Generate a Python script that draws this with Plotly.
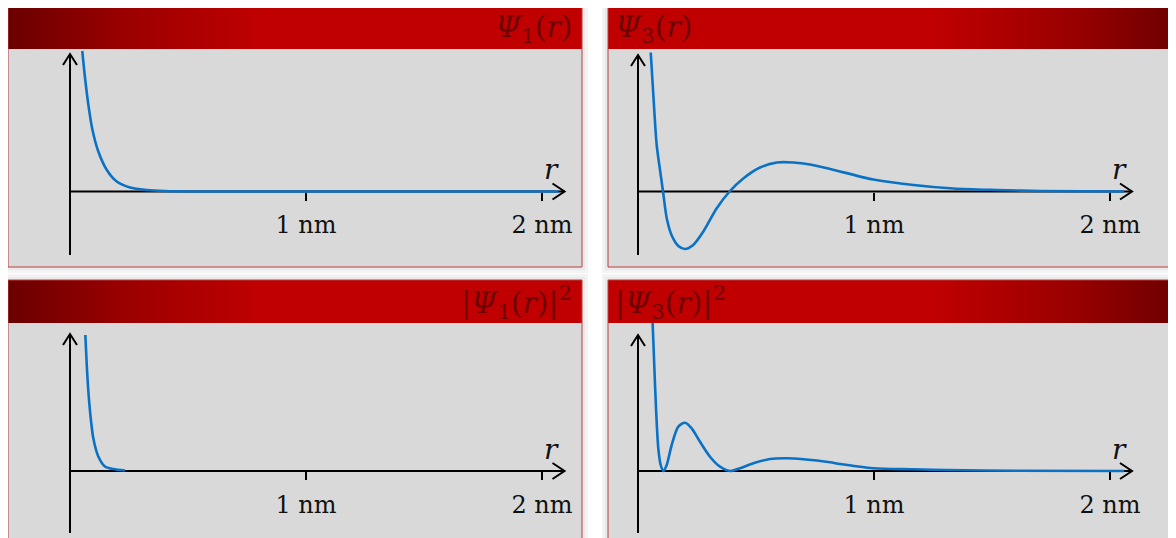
import plotly.graph_objects as go

# ---------------- data (r in nm, amplitude in arbitrary units) ----------------
r_psi1 = [0.052, 0.064, 0.078, 0.094, 0.120, 0.156, 0.198, 0.254, 0.325, 0.40, 0.60, 1.0, 1.5, 2.07]
psi1 = [140.5, 113, 86.5, 63, 40, 21.5, 10, 4, 1.5, 0.5, 0, 0, 0, 0]

r_psi3 = [0.054, 0.065, 0.079, 0.093, 0.106, 0.122, 0.143, 0.171, 0.199, 0.234, 0.277, 0.333,
          0.388, 0.446, 0.517, 0.588, 0.658, 0.729, 0.814, 0.997, 1.167, 1.336, 1.520, 1.703, 2.06]
psi3 = [139, 96.5, 47, 22, 0, -27, -44, -54.5, -57.5, -53.5, -40, -17,
        0, 13, 24, 29, 29, 27, 22.5, 12, 6.5, 3, 1.5, 0.5, 0]

r_psi1_sq = [0.065, 0.071, 0.078, 0.088, 0.099, 0.120, 0.148, 0.183, 0.233]
psi1_sq = [136, 106, 79, 52.5, 32.5, 14.5, 4.5, 2, 0.5]

r_psi3_sq = [0.060, 0.0678, 0.0763, 0.0860, 0.0962, 0.1072, 0.1216, 0.1428, 0.1708, 0.1992,
             0.2275, 0.2627, 0.3051, 0.3475, 0.3898, 0.4322, 0.4886, 0.5593, 0.6301, 0.7004,
             0.8136, 0.856, 0.997, 1.165, 1.308, 1.6, 2.06]
psi3_sq = [160, 112.7, 62.7, 22.7, 6, 0, 6, 26, 44.3, 48.3,
           42.7, 29.3, 14.3, 4.3, 0, 2.7, 7.7, 12, 12.7, 11.7,
           8.7, 7, 2.7, 1.7, 1, 0.3, 0]

tick_vals = [1, 2]
tick_text = ["1 nm", "2 nm"]
titles = ["<i>Ψ</i><sub>1</sub>(<i>r</i>)", "<i>Ψ</i><sub>3</sub>(<i>r</i>)",
          "|<i>Ψ</i><sub>1</sub>(<i>r</i>)|<sup>2</sup>", "|<i>Ψ</i><sub>3</sub>(<i>r</i>)|<sup>2</sup>"]
series = [(r_psi1, psi1), (r_psi3, psi3), (r_psi1_sq, psi1_sq), (r_psi3_sq, psi3_sq)]

# ---------------- layout geometry (screen pixels) ----------------
W, H = 1176, 538
OFF = 8            # page body margin offsets the figure on screen
PX_PER_NM = 236


def clamp(v):
    return max(0.0, min(1.0, v))


def fx(x, c=False):
    v = (x - OFF) / W
    return clamp(v) if c else v


def fy(y, c=False):
    v = 1 - (y - OFF) / H
    return clamp(v) if c else v


panels = [
    dict(l=8, r=582, t=6, hb=49, b=267, ox=70, ay=191.5, ytip=54, ybot=255, xtip=564.5, side="right"),
    dict(l=608, r=1184, t=6, hb=49, b=267, ox=638, ay=191.5, ytip=55, ybot=255, xtip=1132, side="left"),
    dict(l=8, r=582, t=280, hb=323, b=546, ox=70, ay=471, ytip=334, ybot=533, xtip=564.5, side="right"),
    dict(l=608, r=1184, t=280, hb=323, b=546, ox=638, ay=471, ytip=335, ybot=533, xtip=1132, side="left"),
]

RED = "#C00000"
DARK = "#6A0000"
GRAY = "#D9D9D9"
BLUE = "#0A72C6"

fig = go.Figure()
layout = dict(
    width=W, height=H, margin=dict(l=0, r=0, t=0, b=0),
    paper_bgcolor="white", plot_bgcolor=GRAY, showlegend=False,
)
shapes = []
annotations = []

for i, (p, (rs, vs), title) in enumerate(zip(panels, series, titles)):
    k = i + 1
    kh = i + 5
    xs = "" if k == 1 else str(k)
    xname, yname = "x" + xs, "y" + xs
    hx, hy = "x" + str(kh), "y" + str(kh)

    # shadow around panel, then panel fill
    for pad, col in ((6, "#F3F3F3"), (3, "#E9E9E9")):
        shapes.append(dict(type="rect", xref="paper", yref="paper", layer="below",
                           x0=fx(p["l"] - pad), x1=fx(p["r"] + pad),
                           y0=fy(p["b"] + pad), y1=fy(p["t"] - pad),
                           line=dict(width=0), fillcolor=col))
    shapes.append(dict(type="rect", xref="paper", yref="paper", layer="below",
                       x0=fx(p["l"]), x1=fx(p["r"]), y0=fy(p["b"]), y1=fy(p["hb"]),
                       line=dict(width=0), fillcolor=GRAY))

    xl = (p["l"] - p["ox"]) / PX_PER_NM
    xr = (p["r"] - p["ox"]) / PX_PER_NM
    ytop = p["ay"] - p["hb"]
    ybottom = p["ay"] - p["b"]

    layout["xaxis" + xs] = dict(
        domain=[fx(p["l"], True), fx(p["r"], True)], range=[xl, xr], anchor="free",
        position=fy(p["ay"], True), showline=False, showgrid=False, zeroline=False,
        ticks="outside", ticklen=8, tickwidth=2, tickcolor="black",
        tickvals=tick_vals, ticktext=tick_text, ticklabelstandoff=4,
        tickfont=dict(family="DejaVu Serif", size=24, color="#111111"),
        fixedrange=True,
    )
    layout["yaxis" + xs] = dict(
        domain=[fy(p["b"], True), fy(p["hb"], True)], range=[ybottom, ytop], anchor=xname,
        visible=False, fixedrange=True,
    )

    # header gradient
    if p["side"] == "right":
        gx = [p["l"], p["l"] + 255, p["r"]]
        gz = [0, 1, 1]
    else:
        gx = [p["l"], 1176 - 245, p["r"]]
        gz = [1, 1, 0]
    layout["xaxis" + str(kh)] = dict(domain=[fx(p["l"], True), fx(p["r"], True)],
                                     range=[p["l"], p["r"]],
                                     visible=False, anchor=hy, fixedrange=True)
    layout["yaxis" + str(kh)] = dict(domain=[fy(p["hb"], True), fy(p["t"], True)], range=[0, 1],
                                     visible=False, anchor=hx, fixedrange=True)
    fig.add_trace(go.Heatmap(x=gx, y=[0, 1], z=[gz, gz], zsmooth="best",
                             colorscale=[[0, DARK], [0.45, "#9A0000"], [1, RED]],
                             zmin=0, zmax=1, showscale=False, hoverinfo="skip",
                             xaxis=hx, yaxis=hy))

    # curve
    fig.add_trace(go.Scatter(x=rs, y=vs, mode="lines",
                             line=dict(color=BLUE, width=2.6, shape="spline", smoothing=0.8),
                             xaxis=xname, yaxis=yname, hoverinfo="skip"))

    # axis lines (drawn below the curve)
    xtip = (p["xtip"] - p["ox"]) / PX_PER_NM
    yt = p["ay"] - p["ytip"]
    yb = p["ay"] - p["ybot"]
    shapes.append(dict(type="line", xref=xname, yref=yname, layer="below",
                       x0=0, x1=xtip, y0=0, y1=0, line=dict(color="black", width=2)))
    shapes.append(dict(type="line", xref=xname, yref=yname, layer="below",
                       x0=0, x1=0, y0=yb, y1=yt, line=dict(color="black", width=2)))
    shapes.append(dict(type="path", xref=xname, yref=yname, layer="below",
                       xsizemode="pixel", ysizemode="pixel", xanchor=xtip, yanchor=0,
                       path="M -12 8 L 0 0 L -12 -8", line=dict(color="black", width=2)))
    shapes.append(dict(type="path", xref=xname, yref=yname, layer="below",
                       xsizemode="pixel", ysizemode="pixel", xanchor=0, yanchor=yt,
                       path="M -7 -11 L 0 0 L 7 -11", line=dict(color="black", width=2)))

    # panel border
    shapes.append(dict(type="rect", xref="paper", yref="paper", layer="above",
                       x0=fx(p["l"]), x1=fx(p["r"]), y0=fy(p["b"]), y1=fy(p["t"]),
                       line=dict(color="#B84040", width=1)))

    # title in header
    tfont = dict(family="DejaVu Serif", size=30, color="#6E0000")
    ymid = fy((p["t"] + p["hb"]) / 2 + 1)
    if p["side"] == "right":
        annotations.append(dict(xref="paper", yref="paper", x=fx(p["r"] - 8), y=ymid,
                                xanchor="right", yanchor="middle", text=title,
                                showarrow=False, font=tfont))
    else:
        annotations.append(dict(xref="paper", yref="paper", x=fx(p["l"] + 5), y=ymid,
                                xanchor="left", yanchor="middle", text=title,
                                showarrow=False, font=tfont))

    # r label
    annotations.append(dict(xref="paper", yref="paper", x=fx(p["xtip"] - 13),
                            y=fy(p["ay"] - 22), xanchor="center", yanchor="middle",
                            text="<i>r</i>", showarrow=False,
                            font=dict(family="DejaVu Serif", size=28, color="#111111")))

layout["shapes"] = shapes
layout["annotations"] = annotations
fig.update_layout(**layout)
fig.write_html("out.html")
